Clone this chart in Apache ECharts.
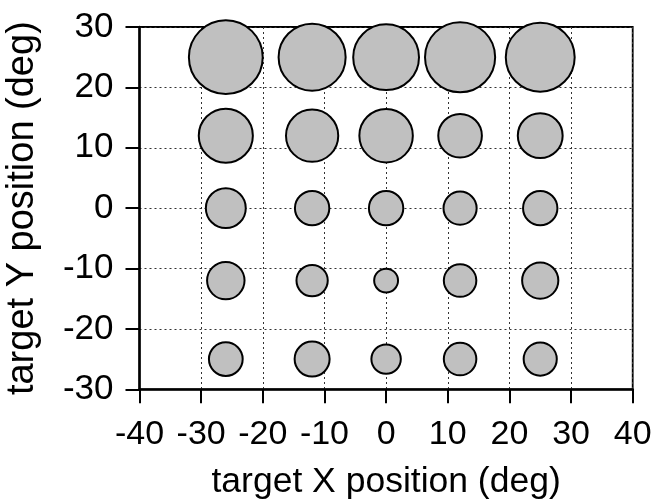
<!DOCTYPE html>
<html>
<head>
<meta charset="utf-8">
<script src="https://cdn.jsdelivr.net/npm/echarts@6/dist/echarts.min.js"></script>
<style>
  html, body { margin: 0; padding: 0; background: #fff; }
  #chart { width: 656px; height: 499px; }
</style>
</head>
<body>
<div id="chart"></div>
<script>
// Target grid positions (deg)
const xPositions = [-26, -12, 0, 12, 25];
const yPositions = [25, 12, 0, -12, -25];
// Bubble diameters (deg, in x-axis units), one array per target row
const diamRowY25 = [12.3, 11.2, 11.0, 11.7, 11.5];
const diamRowY12 = [9.1, 8.8, 9.0, 7.4, 7.6];
const diamRowY0 = [6.8, 5.9, 5.9, 5.7, 5.9];
const diamRowYm12 = [6.4, 5.4, 4.2, 5.6, 6.2];
const diamRowYm25 = [5.8, 6.0, 5.1, 5.6, 5.7];
const xTicks = [-40, -30, -20, -10, 0, 10, 20, 30, 40];
const yTicks = [-30, -20, -10, 0, 10, 20, 30];
const xTitle = 'target X position (deg)';
const yTitle = 'target Y position (deg)';

const rows = [diamRowY25, diamRowY12, diamRowY0, diamRowYm12, diamRowYm25];
const bubbles = [];
rows.forEach((row, ri) => {
  row.forEach((d, ci) => bubbles.push([xPositions[ci], yPositions[ri], d]));
});

const FONT = '"Liberation Sans", Arial, Helvetica, sans-serif';
const chart = echarts.init(document.getElementById('chart'), null, { renderer: 'canvas' });

const gridLine = { show: true, lineStyle: { color: '#333', width: 1, type: [2, 3] } };

chart.setOption({
  animation: false,
  backgroundColor: '#fff',
  grid: {
    left: 139.5, right: 23.3, top: 27, bottom: 109.7,
    containLabel: false, outerBoundsMode: 'none',
    show: true, borderColor: '#000', borderWidth: 1.8, backgroundColor: 'transparent'
  },
  xAxis: {
    type: 'value', min: xTicks[0], max: xTicks[xTicks.length - 1], interval: 10,
    name: xTitle, nameLocation: 'middle', nameGap: 75,
    nameTextStyle: { color: '#000', fontSize: 35.5, fontFamily: FONT },
    axisLine: { show: true, onZero: false, lineStyle: { color: '#000', width: 2.5 } },
    axisTick: { show: true, inside: false, length: 14, lineStyle: { color: '#000', width: 2 } },
    axisLabel: { color: '#000', fontSize: 34, fontFamily: FONT, margin: 28 },
    splitLine: gridLine
  },
  yAxis: {
    type: 'value', min: yTicks[0], max: yTicks[yTicks.length - 1], interval: 10,
    name: yTitle, nameLocation: 'middle', nameGap: 98, nameRotate: 90,
    nameTextStyle: { color: '#000', fontSize: 38, fontFamily: FONT },
    axisLine: { show: true, onZero: false, lineStyle: { color: '#000', width: 2.5 } },
    axisTick: { show: true, inside: false, length: 14, lineStyle: { color: '#000', width: 2 } },
    axisLabel: { color: '#000', fontSize: 35, fontFamily: FONT, margin: 26 },
    splitLine: gridLine
  },
  series: []
});

// pixels per degree from the library's own x scale
const p0 = chart.convertToPixel({ gridIndex: 0 }, [0, 0]);
const p1 = chart.convertToPixel({ gridIndex: 0 }, [10, 0]);
const pxPerDeg = (p1[0] - p0[0]) / 10;
const BORDER = 2;

chart.setOption({
  series: [{
    type: 'scatter',
    data: bubbles,
    symbol: 'circle',
    symbolSize: v => v[2] * pxPerDeg - BORDER,
    itemStyle: { color: '#c0c0c0', borderColor: '#000', borderWidth: BORDER, opacity: 1 },
    emphasis: { disabled: true },
    z: 5
  }]
});
</script>
</body>
</html>
